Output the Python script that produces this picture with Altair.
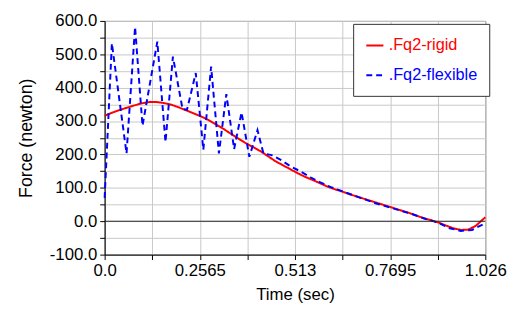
import altair as alt
import pandas as pd

# Red: .Fq2-rigid
rigid_t = [0.0, 0.02, 0.04, 0.06, 0.08, 0.10, 0.12, 0.14, 0.16, 0.18, 0.20, 0.22, 0.24,
           0.26, 0.28, 0.30, 0.32, 0.34, 0.36, 0.38, 0.40, 0.42, 0.44, 0.46, 0.48, 0.50,
           0.52, 0.54, 0.56, 0.58, 0.60, 0.62, 0.64, 0.66, 0.68, 0.70, 0.72, 0.74, 0.76,
           0.78, 0.80, 0.82, 0.84, 0.86, 0.88, 0.90, 0.92, 0.94, 0.96, 0.98, 1.00, 1.026]
rigid_f = [316, 325, 333, 340, 347, 353, 357, 357, 354, 349, 341, 332, 323,
           314, 303, 290, 277, 262, 248, 234, 222, 210, 195, 180, 168, 156,
           144, 133, 124, 114, 104, 96, 89, 81, 74, 67, 60, 53, 46,
           39, 32, 25, 17, 9, 3, -4, -13, -21, -26, -25, -14, 12]

# Blue: .Fq2-flexible
flex_t = [0.0, 0.0195, 0.059, 0.082, 0.102, 0.142, 0.164, 0.184, 0.21, 0.222, 0.2456,
          0.266, 0.287, 0.308, 0.328, 0.349, 0.369, 0.39, 0.412, 0.428, 0.45, 0.476,
          0.50, 0.53, 0.556, 0.58, 0.61, 0.64, 0.67, 0.70, 0.73, 0.77, 0.80, 0.83,
          0.86, 0.898, 0.93, 0.96, 0.99, 1.026]
flex_f = [70, 533, 203, 582, 286, 538, 237, 493, 336, 334, 444,
          214, 463, 203, 381, 216, 326, 193, 273, 203, 198, 183,
          165, 148, 131, 117, 102, 90, 78, 66, 54, 41, 31, 21,
          9, -4, -21, -29, -26, -6]

series_names = [".Fq2-rigid", ".Fq2-flexible"]
series_colors = ["#ff0000", "#0000ff"]
series_dash = [[1, 0], [6, 4]]

x_ticks = [0, 0.12825, 0.2565, 0.38475, 0.513, 0.64125, 0.7695, 0.89775, 1.026]
y_ticks = [-100, -50, 0, 50, 100, 150, 200, 250, 300, 350, 400, 450, 500, 550, 600]
zero_line = [0]

df = pd.concat([
    pd.DataFrame({"t": rigid_t, "f": rigid_f, "s": series_names[0]}),
    pd.DataFrame({"t": flex_t, "f": flex_f, "s": series_names[1]}),
])

FONT = "Liberation Sans, Arial, sans-serif"

y_scale = alt.Scale(domain=[-100, 600], nice=False)
y_axis = alt.Axis(title="Force (newton)", values=y_ticks,
                  labelExpr="datum.value % 100 == 0 ? replace(format(datum.value, '.1f'), '\u2212', '-') : ''",
                  grid=True, tickSize=5, labelFontSize=17, titleFontSize=18,
                  labelPadding=3, titlePadding=14, labelOverlap=False, labelFlush=False)

x = alt.X("t:Q", scale=alt.Scale(domain=[0, 1.026], nice=False),
          axis=alt.Axis(title="Time (sec)", values=x_ticks,
                        labelExpr="datum.value < 0.001 ? '0.0' : (round(datum.value/0.12825) % 2 == 1 ? '' : format(datum.value, ''))",
                        grid=True, tickSize=5, labelFontSize=17, titleFontSize=17,
                        labelPadding=3, titlePadding=8, labelFlush=False, labelOverlap=False))

lines = alt.Chart(df).mark_line(strokeWidth=2).encode(
    x=x, y=alt.Y("f:Q", scale=y_scale, axis=y_axis),
    color=alt.Color("s:N", scale=alt.Scale(domain=series_names, range=series_colors),
                    legend=alt.Legend(title=None, orient="none", legendX=252, legendY=3,
                                      symbolType="stroke", symbolSize=300, symbolStrokeWidth=2,
                                      labelFontSize=16.5, labelFont=FONT,
                                      labelColor=alt.ExprRef("datum.label == '.Fq2-rigid' ? '#ff0000' : '#0000ff'"),
                                      strokeColor="#333333", fillColor="white",
                                      padding=12, rowPadding=11, labelOffset=4)),
    strokeDash=alt.StrokeDash("s:N", scale=alt.Scale(domain=series_names, range=series_dash), legend=None),
    order=alt.Order("t:Q"),
)

zero = alt.Chart(pd.DataFrame({"f": zero_line})).mark_rule(color="#222222", strokeWidth=1).encode(
    y=alt.Y("f:Q", scale=y_scale, axis=y_axis))

chart = alt.layer(lines, zero).properties(
    width=386, height=237,
    autosize=alt.AutoSizeParams(type="none"),
    padding={"left": 98, "top": 11, "right": 22, "bottom": 50},
).configure_view(stroke="#666666", strokeWidth=1).configure_axis(
    gridColor="#c8c8c8", gridWidth=1, domainColor="#000000", tickColor="#000000",
    labelColor="#000000", titleColor="#000000", labelFont=FONT, titleFont=FONT,
    titleFontWeight="normal",
)

chart.save("out.html", embed_options={"renderer": "svg", "actions": False})
